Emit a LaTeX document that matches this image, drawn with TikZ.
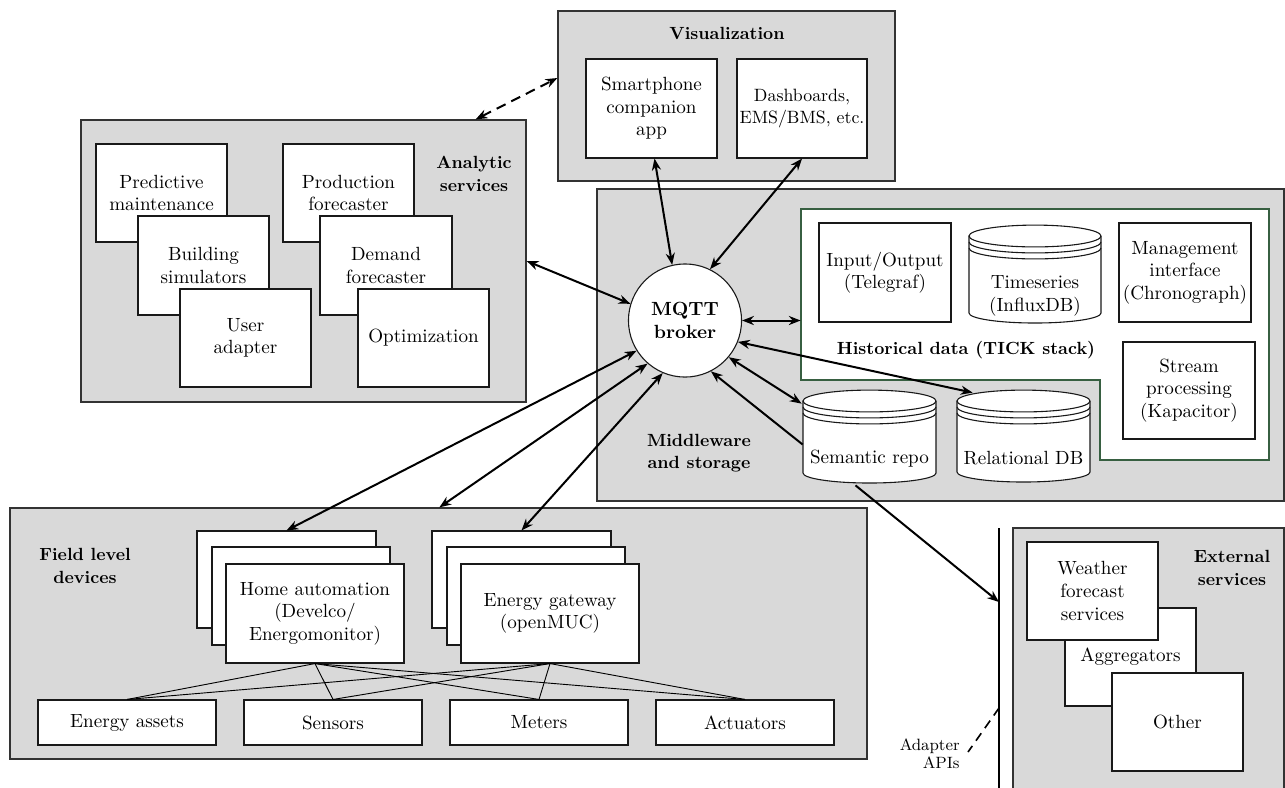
\documentclass[tikz,border=0pt]{standalone}
\usetikzlibrary{arrows.meta,calc}
\definecolor{panel}{RGB}{217,217,217}
\definecolor{histgreen}{RGB}{55,95,65}
% #1 style, #2 name, #3 x1, #4 y1, #5 x2, #6 y2, #7 text
\newcommand\boxnode[7]{%
  \node[#1, minimum width={(#5-#3)*0.55pt}, minimum height={(#6-#4)*0.55pt}] (#2) at ({(#3+#5)/2},{(#4+#6)/2}) {#7};}
\newcommand\dbcyl[6]{%
  \boxnode{inner sep=0pt}{#1}{#2}{#3}{#4}{#5}{}
  \filldraw[fill=white, draw=black!90, line width=0.6pt]
    (#2,#3+11) -- (#2,#5-10) arc[start angle=180, end angle=360, x radius={(#4-#2)*0.275pt}, y radius=5.5pt]
    -- (#4,#3+11) arc[start angle=0, end angle=180, x radius={(#4-#2)*0.275pt}, y radius=6pt] -- cycle;
  \draw[black!90, line width=0.6pt] (#2,#3+11) arc[start angle=180, end angle=360, x radius={(#4-#2)*0.275pt}, y radius=6pt];
  \draw[black!90, line width=0.6pt] (#2,#3+17) arc[start angle=180, end angle=360, x radius={(#4-#2)*0.275pt}, y radius=6pt];
  \draw[black!90, line width=0.6pt] (#2,#3+23) arc[start angle=180, end angle=360, x radius={(#4-#2)*0.275pt}, y radius=6pt];
  \node[align=center] (#1txt) at ($(#1.center)+(0,22)$) {#6};
}
\begin{document}
\begin{tikzpicture}[x=0.55pt,y=-0.55pt,
  font=\fontsize{10.5}{12.4}\selectfont,
  panelbox/.style={draw=black!80, fill=panel, line width=0.7pt, inner sep=0pt},
  wbox/.style={draw=black!90, fill=white, line width=0.6pt, inner sep=0pt, align=center},
  ttl/.style={font=\fontsize{9.7}{12.4}\selectfont\bfseries, align=center},
  link/.style={line width=1.1pt, {Stealth[length=6.5pt,width=5pt]}-{Stealth[length=6.5pt,width=5pt]}},
  onelink/.style={line width=1.1pt, -{Stealth[length=6.5pt,width=5pt]}},
  wire/.style={line width=0.5pt},
]
\clip (0,0) rectangle (1285,787);

% ---------- panels ----------
\boxnode{panelbox}{an}{81}{120}{526}{402}{}
\boxnode{panelbox}{vis}{558}{11}{895}{181}{}
\boxnode{panelbox}{mw}{597}{189}{1284}{501}{}
\boxnode{panelbox}{field}{10}{508}{867}{759}{}
\boxnode{panelbox}{ext}{1013}{528}{1284}{800}{}

% ---------- analytic services ----------
\boxnode{wbox}{pm}{96}{144}{227}{242}{Predictive\\maintenance}
\boxnode{wbox}{bs}{138}{216}{269}{315}{Building\\simulators}
\boxnode{wbox}{ua}{180}{289}{311}{387}{User\\adapter}
\boxnode{wbox}{pf}{283}{144}{414}{242}{Production\\forecaster}
\boxnode{wbox}{df}{320}{216}{452}{315}{Demand\\forecaster}
\boxnode{wbox}{op}{358}{289}{489}{387}{Optimization}
\node[ttl] (anlbl) at (474,174) {Analytic\\services};

% ---------- visualization ----------
\node[ttl] (vislbl) at (727,33) {Visualization};
\boxnode{wbox}{sp}{586}{59}{717}{158}{Smartphone\\companion\\app}
\boxnode{wbox, font=\fontsize{9.8}{12.4}\selectfont}{db}{737}{59}{867}{158}{Dashboards,\\EMS/BMS, etc.}

% ---------- middleware ----------
\filldraw[draw=histgreen, fill=white, line width=0.6pt]
  (801,209) -- (1269,209) -- (1269,460) -- (1100,460) -- (1100,380) -- (801,380) -- cycle;
\boxnode{inner sep=0pt}{hist}{801}{209}{1269}{380}{}
\boxnode{wbox}{io}{819}{223}{951}{322}{Input/Output\\(Telegraf)}
\dbcyl{ts}{969}{225}{1101}{323}{Timeseries\\(InfluxDB)}
\boxnode{wbox}{mi}{1119}{223}{1251}{322}{Management\\interface\\(Chronograph)}
\boxnode{wbox}{spk}{1123}{342}{1255}{439}{Stream\\processing\\(Kapacitor)}
\node[ttl] (histlbl) at (966,350) {Historical data (TICK stack)};
\dbcyl{sem}{803}{390}{936}{483}{Semantic repo}
\dbcyl{rel}{957}{390}{1090}{482}{Relational DB}
\node[ttl] (mwlbl) at (699,453) {Middleware\\and storage};
\node[circle, draw=black!90, fill=white, line width=0.6pt, minimum size=62.2pt, inner sep=0pt,
      font=\fontsize{10.5}{12.4}\selectfont\bfseries, align=center] (mqtt) at (685,320.5) {MQTT\\broker};

% ---------- field level ----------
\node[ttl] (fllbl) at (85,566) {Field level\\devices};
\boxnode{wbox}{hab}{197}{531}{376}{628}{}
\boxnode{wbox}{ham}{212}{547}{390}{645}{}
\boxnode{wbox}{haf}{226}{564}{404}{663}{Home automation\\(Develco/\\Energomonitor)}
\boxnode{wbox}{egb}{432}{531}{611}{628}{}
\boxnode{wbox}{egm}{447}{547}{625}{645}{}
\boxnode{wbox}{egf}{461}{564}{639}{663}{Energy gateway\\(openMUC)}
\boxnode{wbox}{ea}{38}{700}{216}{745}{Energy assets}
\boxnode{wbox}{se}{244}{700}{422}{745}{Sensors}
\boxnode{wbox}{me}{450}{700}{628}{745}{Meters}
\boxnode{wbox}{ac}{656}{700}{834}{745}{Actuators}
\foreach \s in {ea,se,me,ac} {
  \draw[wire] (haf.south) -- (\s.north);
  \draw[wire] (egf.south) -- (\s.north);
}

% ---------- external ----------
\node[ttl] (exlbl) at (1232,568) {External\\services};
\boxnode{wbox}{agg}{1065}{608}{1196}{706}{Aggregators}
\boxnode{wbox}{wf}{1027}{542}{1158}{640}{Weather\\forecast\\services}
\boxnode{wbox}{oth}{1112}{673}{1243}{771}{Other}

% ---------- adapter APIs ----------
\coordinate (apitop) at (999,528);
\coordinate (apibot) at (999,800);
\coordinate (api) at (999,602);
\coordinate (apilab) at (999,708);
\coordinate (apiend) at (968,752);
\draw[line width=1.1pt] (apitop) -- (apibot);
\draw[line width=0.9pt, dash pattern=on 5pt off 3.5pt] (apilab) -- (apiend);
\node[align=right, anchor=east, font=\fontsize{9}{10}\selectfont] (apitxt) at (966,754) {Adapter\\APIs};

% ---------- connectors ----------
\draw[link, dash pattern=on 5.5pt off 3.5pt] ($(an.north east)+(-51,0)$) -- ($(vis.west)+(0,-18)$);
\draw[link] (an.east) -- (mqtt.163);
\draw[link] ($(sp.south)+(3,0)$) -- (mqtt.103);
\draw[link] (db.south) -- (mqtt.64);
\draw[link] (mqtt.east) -- (mqtt.east -| hist.west);
\draw[link] (mqtt.338) -- ($(rel.north west)+(16,3)$);
\draw[link] (mqtt.320) -- ($(sem.north west)+(-1,14)$);
\draw[onelink] ($(sem.west)+(0,8)$) -- (mqtt.297);
\draw[link] (mqtt.212) -- (hab.north);
\draw[link] (mqtt.229) -- ($(field.north west)+(430,0)$);
\draw[link] (mqtt.247) -- (egb.north);
\draw[onelink] ($(sem.south)+(-14,2)$) -- (api);
\end{tikzpicture}
\end{document}
